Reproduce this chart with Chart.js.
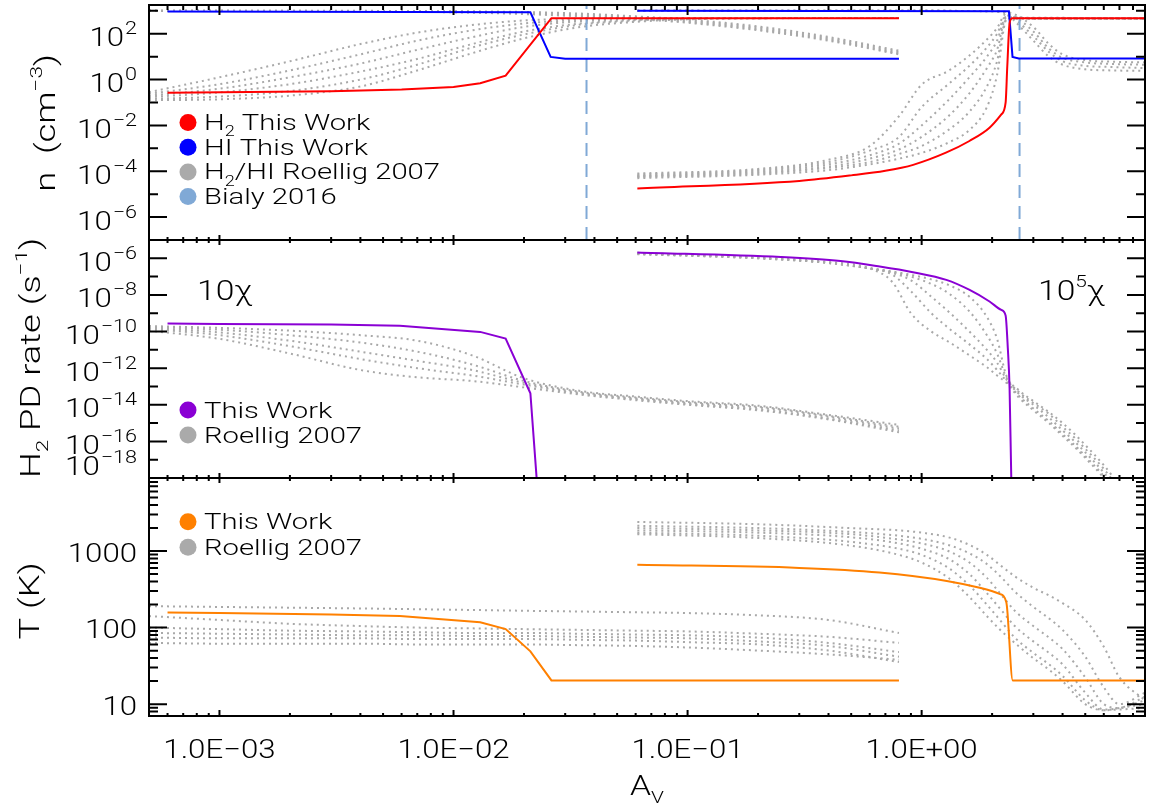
<!DOCTYPE html>
<html>
<head>
<meta charset="utf-8">
<title>H2 / HI profiles</title>
<script src="https://cdn.jsdelivr.net/npm/chart.js@4.4.1/dist/chart.umd.min.js"></script>
<style>
  body { margin: 0; background: #fff; }
  #wrap { position: relative; width: 1149px; height: 807px; }
  #wrap canvas { position: absolute; left: 0; top: 0; }
</style>
</head>
<body>
<div id="wrap">
  <canvas id="nChart" width="1149" height="807"></canvas>
  <canvas id="pdChart" width="1149" height="807"></canvas>
  <canvas id="tChart" width="1149" height="807"></canvas>
</div>
<script>
// ---------------- data (A_V on x; y values kept as log10) ----------------
var avRange = [5e-4, 9];
var nRange = [1e-7, 1800];
var pdRange = [1e-18, 1e-5];
var tRange = [7, 9000];

var xTicks = [1e-3, 1e-2, 1e-1, 1];
var xTickLabels = ['1.0E\u221203', '1.0E\u221202', '1.0E\u221201', '1.0E+00'];
var nTickExps = [-6, -4, -2, 0, 2];
var nMinorExps = [-7, -5, -3, -1, 1, 3];
var pdTickExps = [-18, -16, -14, -12, -10, -8, -6];
var pdMinorExps = [-17, -15, -13, -11, -9, -7, -5];
var tTicks = [10, 100, 1000];
var tTickLabels = ['10', '100', '1000'];

// Roellig 2007 benchmark, 10 chi models (shared A_V grid)
var avRoeLo = [5e-4, 1e-3, 2e-3, 4e-3, 7e-3, 0.012, 0.02, 0.035, 0.06, 0.1, 0.2, 0.4, 0.8];
var nH2RoeLo = [
  [-0.55, 0.10, 0.80, 1.55, 2.05, 2.38, 2.58, 2.66, 2.68, 2.69, 2.69, 2.69, 2.69],
  [-0.62, -0.20, 0.40, 1.10, 1.70, 2.15, 2.45, 2.60, 2.66, 2.68, 2.69, 2.69, 2.69],
  [-0.70, -0.40, 0.10, 0.70, 1.30, 1.85, 2.30, 2.55, 2.64, 2.67, 2.69, 2.69, 2.69],
  [-0.76, -0.56, -0.20, 0.35, 0.90, 1.55, 2.10, 2.45, 2.60, 2.66, 2.68, 2.69, 2.69],
  [-0.84, -0.74, -0.50, 0.00, 0.65, 1.40, 1.97, 2.40, 2.57, 2.65, 2.68, 2.69, 2.69],
  [-0.90, -0.86, -0.70, -0.30, 0.40, 1.15, 1.80, 2.30, 2.52, 2.63, 2.67, 2.69, 2.69]
];
var nHIRoeLo = [
  [3.00, 3.00, 3.00, 3.00, 2.99, 2.98, 2.95, 2.88, 2.76, 2.62, 2.32, 1.86, 1.26],
  [3.00, 3.00, 3.00, 2.99, 2.98, 2.96, 2.92, 2.84, 2.72, 2.57, 2.26, 1.80, 1.20],
  [3.00, 3.00, 2.99, 2.99, 2.97, 2.94, 2.89, 2.80, 2.68, 2.52, 2.20, 1.74, 1.14],
  [3.00, 2.99, 2.99, 2.98, 2.96, 2.92, 2.86, 2.76, 2.64, 2.48, 2.15, 1.70, 1.10]
];
var pdRoeLo = [
  [-9.70, -9.80, -9.95, -10.20, -10.50, -11.30, -12.55, -13.25, -13.55, -13.80, -14.05, -14.55, -15.10],
  [-9.75, -9.90, -10.20, -10.60, -11.10, -11.80, -12.70, -13.30, -13.60, -13.85, -14.10, -14.60, -15.20],
  [-9.80, -10.05, -10.50, -11.10, -11.60, -12.10, -12.80, -13.35, -13.65, -13.90, -14.15, -14.65, -15.30],
  [-9.85, -10.20, -10.80, -11.50, -12.00, -12.40, -12.90, -13.40, -13.70, -13.95, -14.25, -14.75, -15.40],
  [-9.95, -10.40, -11.20, -12.10, -12.50, -12.70, -13.05, -13.45, -13.75, -14.00, -14.30, -14.80, -15.50]
];
var tRoeLo = [
  [2.28, 2.27, 2.26, 2.25, 2.24, 2.23, 2.22, 2.21, 2.20, 2.19, 2.16, 2.10, 1.93],
  [2.15, 2.10, 2.05, 2.02, 2.00, 1.99, 1.98, 1.97, 1.96, 1.95, 1.92, 1.88, 1.80],
  [2.00, 1.98, 1.96, 1.95, 1.94, 1.93, 1.93, 1.92, 1.91, 1.90, 1.87, 1.80, 1.68],
  [1.93, 1.92, 1.91, 1.90, 1.90, 1.89, 1.89, 1.88, 1.87, 1.86, 1.82, 1.76, 1.62],
  [1.87, 1.86, 1.86, 1.86, 1.85, 1.85, 1.85, 1.84, 1.83, 1.81, 1.78, 1.70, 1.55],
  [1.80, 1.79, 1.79, 1.79, 1.78, 1.78, 1.78, 1.77, 1.76, 1.74, 1.70, 1.65, 1.58]
];

// Roellig 2007 benchmark, 10^5 chi models
var avRoeHiH2 = [0.061, 0.2, 0.4, 0.6, 0.8, 1.0, 1.3, 1.6, 1.9, 2.1, 2.3, 2.5, 3.0, 9];
var nH2RoeHi = [
  [-4.10, -3.90, -3.50, -2.90, -1.60, -0.22, 0.38, 1.05, 1.75, 2.25, 2.88, 2.75, 2.70, 2.69],
  [-4.15, -3.95, -3.60, -3.10, -2.50, -1.20, -0.20, 0.60, 1.40, 2.00, 2.80, 2.72, 2.68, 2.68],
  [-4.20, -4.00, -3.70, -3.30, -2.80, -2.00, -0.90, 0.10, 1.00, 1.70, 2.75, 2.70, 2.68, 2.68],
  [-4.22, -4.05, -3.80, -3.45, -3.05, -2.50, -1.60, -0.60, 0.50, 1.30, 2.70, 2.70, 2.66, 2.66],
  [-4.25, -4.10, -3.85, -3.60, -3.25, -2.90, -2.20, -1.40, -0.30, 0.80, 2.65, 2.68, 2.66, 2.66],
  [-4.30, -4.15, -3.95, -3.70, -3.45, -3.20, -2.75, -2.20, -1.20, 0.20, 2.60, 2.66, 2.65, 2.65]
];
var avRoeHiHI = [0.061, 1.0, 2.0, 2.3, 2.5, 3.0, 3.5, 4.0, 5.0, 6.5, 9];
var nHIRoeHi = [
  [3.00, 3.00, 2.99, 2.95, 2.85, 2.30, 1.55, 1.10, 0.85, 0.78, 0.75],
  [3.00, 3.00, 2.99, 2.92, 2.75, 2.10, 1.35, 0.95, 0.75, 0.68, 0.65],
  [3.00, 3.00, 2.98, 2.90, 2.65, 1.90, 1.20, 0.80, 0.60, 0.55, 0.50],
  [3.00, 3.00, 2.98, 2.88, 2.55, 1.70, 1.00, 0.65, 0.45, 0.40, 0.38]
];
var avRoeHiPD = [0.061, 0.2, 0.4, 0.6, 0.75, 0.9, 1.1, 1.3, 1.6, 1.9, 2.1, 2.3, 2.6, 3.0, 3.5, 4.0, 4.5, 5.0, 6.0, 7.0];
var pdRoeHi = [
  [-5.70, -5.95, -6.20, -6.55, -7.30, -9.00, -10.00, -10.55, -11.30, -11.95, -12.40, -12.80, -13.60, -14.30, -15.00, -15.70, -16.30, -16.90, -18.00, -19.20],
  [-5.72, -5.97, -6.25, -6.55, -6.90, -7.80, -9.00, -9.80, -10.70, -11.50, -12.10, -12.70, -13.50, -14.20, -14.90, -15.60, -16.20, -16.80, -17.90, -19.00],
  [-5.74, -5.98, -6.25, -6.55, -6.80, -7.20, -8.10, -8.90, -10.00, -11.00, -11.70, -12.60, -13.40, -14.00, -14.70, -15.40, -16.00, -16.60, -17.70, -18.80],
  [-5.76, -6.00, -6.25, -6.55, -6.75, -7.00, -7.40, -7.90, -8.90, -10.20, -11.20, -12.50, -13.30, -13.90, -14.50, -15.20, -15.80, -16.40, -17.50, -18.60],
  [-5.78, -6.00, -6.25, -6.55, -6.72, -6.90, -7.15, -7.45, -8.10, -9.20, -10.40, -12.40, -13.20, -13.80, -14.40, -15.00, -15.60, -16.20, -17.30, -18.40]
];
var avRoeHiT = [0.061, 0.2, 0.5, 0.8, 1.0, 1.3, 1.6, 1.9, 2.2, 2.5, 3.0, 3.5, 4.0, 5.0, 6.0, 7.0, 9.0];
var tRoeHi = [
  [3.38, 3.35, 3.30, 3.27, 3.24, 3.18, 3.08, 2.95, 2.80, 2.67, 2.52, 2.42, 2.32, 2.10, 1.75, 1.35, 1.05],
  [3.33, 3.30, 3.25, 3.20, 3.16, 3.08, 2.97, 2.83, 2.65, 2.47, 2.27, 2.12, 1.97, 1.62, 1.22, 1.00, 1.15],
  [3.30, 3.27, 3.22, 3.15, 3.10, 3.00, 2.85, 2.65, 2.42, 2.22, 2.02, 1.87, 1.72, 1.35, 1.00, 0.95, 1.10],
  [3.27, 3.24, 3.18, 3.10, 3.03, 2.90, 2.70, 2.45, 2.22, 2.02, 1.82, 1.67, 1.52, 1.15, 0.93, 0.95, 1.05],
  [3.24, 3.20, 3.12, 3.03, 2.95, 2.78, 2.55, 2.30, 2.07, 1.87, 1.67, 1.52, 1.37, 1.05, 0.92, 0.95, 1.00],
  [3.22, 3.17, 3.07, 2.95, 2.85, 2.65, 2.40, 2.15, 1.95, 1.80, 1.60, 1.45, 1.30, 1.00, 0.92, 0.93, 0.95]
];

// This Work, 10 chi model
var avTwLoH2 = [6e-4, 3e-3, 6e-3, 0.01, 0.013, 0.0167, 0.0262, 0.8];
var nH2TwLo = [-0.57, -0.51, -0.43, -0.32, -0.16, 0.17, 2.68, 2.68];
var avTwLoHI = [6e-4, 0.0213, 0.026, 0.030, 0.8];
var nHITwLo = [2.97, 2.94, 0.99, 0.91, 0.91];
var avTwLoPD = [6e-4, 1e-3, 3e-3, 0.0059, 0.013, 0.0167, 0.0213, 0.0262];
var pdTwLo = [-9.56, -9.59, -9.62, -9.69, -10.02, -10.38, -13.37, -29.0];
var avTwLoT = [6e-4, 1e-3, 3e-3, 0.0059, 0.013, 0.0167, 0.0213, 0.0262, 0.8];
var tTwLo = [2.196, 2.19, 2.17, 2.15, 2.07, 1.98, 1.69, 1.31, 1.31];

// This Work, 10^5 chi model
var avTwHiH2 = [0.061, 0.3, 0.5, 0.7, 0.92, 1.27, 1.6, 1.95, 2.19, 2.284, 2.322, 2.375, 2.439, 9];
var nH2TwHi = [-4.75, -4.42, -4.18, -3.98, -3.72, -3.19, -2.68, -2.10, -1.52, -1.01, 0.58, 2.46, 2.68, 2.68];
var avTwHiHI = [0.061, 2.36, 2.445, 2.6, 9];
var nHITwHi = [3.00, 2.98, 0.99, 0.92, 0.92];
var avTwHiPD = [0.061, 0.25, 0.45, 0.662, 0.918, 1.275, 1.603, 1.95, 2.19, 2.284, 2.334, 2.375, 2.415, 2.45];
var pdTwHi = [-5.68, -5.93, -6.15, -6.45, -6.76, -7.18, -7.73, -8.36, -8.82, -9.12, -10.9, -13.1, -18.0, -21.0];
var avTwHiT = [0.061, 0.3, 0.66, 1.28, 1.77, 2.15, 2.30, 2.45, 9];
var tTwHi = [2.82, 2.78, 2.72, 2.61, 2.52, 2.44, 2.33, 1.31, 1.31];

// Bialy 2016 transition points
var avBialy = [0.037, 2.62];

// ---------------- styling ----------------
var RED = '#ff0000', BLUE = '#0000ff', GRAY = '#a9a9a9', BIALY = '#80a9d6';
var PURPLE = '#8a00d4', ORANGE = '#ff8000';
var SX = 1.2;
var FONT = '300 {s}px Roboto, "Liberation Sans", sans-serif';
var PAD_L = 149, PAD_R = 4;

function pts(xs, logs) {
  return xs.map(function (x, i) { return { x: x, y: Math.pow(10, logs[i]) }; });
}
function solid(xs, logs, color, smooth) {
  return { data: pts(xs, logs), borderColor: color, borderWidth: 2, pointRadius: 0, showLine: true, fill: false,
           cubicInterpolationMode: smooth ? 'monotone' : 'default' };
}
function dotted(xs, logs) {
  return { data: pts(xs, logs), borderColor: GRAY, borderWidth: 2, borderDash: [2, 4], pointRadius: 0,
           showLine: true, fill: false, cubicInterpolationMode: 'monotone' };
}
function vline(x, range) {
  return { data: [{ x: x, y: range[0] }, { x: x, y: range[1] }], borderColor: BIALY, borderWidth: 2,
           borderDash: [13, 8], pointRadius: 0, showLine: true, fill: false };
}

// text drawn with a horizontal stretch to get close to the wide IDL glyphs
// a segment is [text, 'sub' | 'sup' | '']
function rich(ctx, segs, x, y, size, align, sx) {
  sx = sx || SX;
  var parts = segs.map(function (s) {
    var fs = s[1] ? size * 0.62 : size;
    var f = FONT.replace('{s}', fs.toFixed(1));
    ctx.font = f;
    return { t: s[0], k: s[1], f: f, w: ctx.measureText(s[0]).width * sx };
  });
  var w = parts.reduce(function (acc, p) { return acc + p.w; }, 0);
  var cx = align === 'center' ? x - w / 2 : (align === 'right' ? x - w : x);
  parts.forEach(function (p) {
    var dy = p.k === 'sub' ? size * 0.28 : (p.k === 'sup' ? -size * 0.45 : 0);
    ctx.save();
    ctx.font = p.f;
    ctx.textAlign = 'left';
    ctx.textBaseline = 'alphabetic';
    ctx.translate(cx, y + dy);
    ctx.scale(sx, 1);
    ctx.fillText(p.t, 0, 0);
    ctx.restore();
    cx += p.w;
  });
  return w;
}

function powLabel(ctx, e, py, area) {
  var es = e < 0 ? '\u2212' + (-e) : String(e);
  var base = Math.min(py + 12.5, area.bottom - 3);
  var we = rich(ctx, [[es, '']], 137, base - 12, 18, 'right');
  rich(ctx, [['10', '']], 137 - we - 1, base, 26, 'right');
}

var xMinorTicks = [];
[1e-4, 1e-3, 1e-2, 1e-1, 1].forEach(function (d) {
  for (var m = 2; m <= 9; m++) {
    var v = m * d;
    if (v > avRange[0] && v < avRange[1]) xMinorTicks.push(v);
  }
});

// frame, inward ticks, labels, legend and notes for one panel
function panelPlugin(cfg) {
  return {
    id: 'panel',
    afterDatasetsDraw: function (chart) {
      var ctx = chart.ctx, a = chart.chartArea;
      var xs = chart.scales.x, ys = chart.scales.y;
      ctx.save();
      ctx.strokeStyle = '#000';
      ctx.fillStyle = '#000';
      ctx.lineWidth = 2;
      ctx.beginPath();
      function xt(v, top, bot) {
        var p = xs.getPixelForValue(v);
        ctx.moveTo(p, a.top); ctx.lineTo(p, a.top + top);
        ctx.moveTo(p, a.bottom); ctx.lineTo(p, a.bottom - bot);
      }
      function yt(v, len) {
        var p = ys.getPixelForValue(v);
        ctx.moveTo(a.left, p); ctx.lineTo(a.left + len, p);
        ctx.moveTo(a.right, p); ctx.lineTo(a.right - len, p);
      }
      xMinorTicks.forEach(function (v) { xt(v, cfg.xTop[1], cfg.xBot[1]); });
      xTicks.forEach(function (v) { xt(v, cfg.xTop[0], cfg.xBot[0]); });
      cfg.yMinor.forEach(function (v) { yt(v, 9); });
      cfg.yMajor.forEach(function (v) { yt(v, 18); });
      ctx.stroke();
      ctx.strokeRect(a.left, a.top, a.right - a.left, a.bottom - a.top);

      cfg.yMajor.forEach(function (v, i) {
        var py = ys.getPixelForValue(v);
        if (cfg.yExps) powLabel(ctx, cfg.yExps[i], py, a);
        else rich(ctx, [[cfg.yLabels[i], '']], 137, py + 10.5, 26, 'right');
      });

      if (cfg.xLabels) {
        xTicks.forEach(function (v, i) {
          rich(ctx, [[xTickLabels[i], '']], xs.getPixelForValue(v), 758, 26, 'center');
        });
        rich(ctx, [['A', ''], ['V', 'sub']], (a.left + a.right) / 2, 795, 28, 'center');
      }

      ctx.save();
      ctx.translate(cfg.title.x, cfg.title.y);
      ctx.rotate(-Math.PI / 2);
      rich(ctx, cfg.title.segs, 0, 0, 28, 'center', 1.3);
      ctx.restore();

      cfg.legend.forEach(function (item, i) {
        var y = cfg.legendY + i * cfg.legendDY;
        ctx.fillStyle = item.color;
        ctx.beginPath();
        ctx.arc(188, y, 8.5, 0, Math.PI * 2);
        ctx.fill();
        ctx.fillStyle = '#000';
        rich(ctx, item.segs, 204, y + 7.5, 22.5, 'left', 1.3);
      });

      (cfg.notes || []).forEach(function (n) { rich(ctx, n.segs, n.x, n.y, 28, 'left'); });
      ctx.restore();
    }
  };
}

function makeChart(id, datasets, yRange, pad, cfg) {
  return new Chart(document.getElementById(id), {
    type: 'scatter',
    data: { datasets: datasets },
    options: {
      responsive: false,
      animation: false,
      devicePixelRatio: 1,
      events: [],
      layout: { padding: { left: PAD_L, right: PAD_R, top: pad[0], bottom: pad[1] } },
      plugins: { legend: { display: false }, tooltip: { enabled: false } },
      scales: {
        x: { type: 'logarithmic', min: avRange[0], max: avRange[1], display: false },
        y: { type: 'logarithmic', min: yRange[0], max: yRange[1], display: false }
      }
    },
    plugins: [panelPlugin(cfg)]
  });
}

// ---------------- top panel: densities ----------------
var nSets = [
  solid(avTwLoH2, nH2TwLo, RED), solid(avTwHiH2, nH2TwHi, RED, true),
  solid(avTwLoHI, nHITwLo, BLUE), solid(avTwHiHI, nHITwHi, BLUE),
  vline(avBialy[0], nRange), vline(avBialy[1], nRange)
];
nH2RoeLo.forEach(function (c) { nSets.push(dotted(avRoeLo, c)); });
nHIRoeLo.forEach(function (c) { nSets.push(dotted(avRoeLo, c)); });
nH2RoeHi.forEach(function (c) { nSets.push(dotted(avRoeHiH2, c)); });
nHIRoeHi.forEach(function (c) { nSets.push(dotted(avRoeHiHI, c)); });

makeChart('nChart', nSets, nRange, [5, 807 - 240], {
  yMajor: nTickExps.map(function (e) { return Math.pow(10, e); }),
  yExps: nTickExps,
  yMinor: nMinorExps.map(function (e) { return Math.pow(10, e); }),
  xTop: [10, 5], xBot: [5, 3],
  title: { x: 55, y: 123, segs: [['n  (cm', ''], ['\u22123', 'sup'], [')', '']] },
  legendY: 122.5, legendDY: 24.7,
  legend: [
    { color: RED, segs: [['H', ''], ['2', 'sub'], [' This Work', '']] },
    { color: BLUE, segs: [['HI This Work', '']] },
    { color: '#aaaaaa', segs: [['H', ''], ['2', 'sub'], ['/HI Roellig 2007', '']] },
    { color: BIALY, segs: [['Bialy 2016', '']] }
  ]
});

// ---------------- middle panel: H2 photodissociation rate ----------------
var pdSets = [solid(avTwLoPD, pdTwLo, PURPLE), solid(avTwHiPD, pdTwHi, PURPLE, true)];
pdRoeLo.forEach(function (c) { pdSets.push(dotted(avRoeLo, c)); });
pdRoeHi.forEach(function (c) { pdSets.push(dotted(avRoeHiPD, c)); });

makeChart('pdChart', pdSets, pdRange, [240, 807 - 478], {
  yMajor: pdTickExps.map(function (e) { return Math.pow(10, e); }),
  yExps: pdTickExps,
  yMinor: pdMinorExps.map(function (e) { return Math.pow(10, e); }),
  xTop: [5, 3], xBot: [5, 3],
  title: { x: 40, y: 358, segs: [['H', ''], ['2', 'sub'], [' PD rate (s', ''], ['\u22121', 'sup'], [')', '']] },
  legendY: 410, legendDY: 25,
  legend: [
    { color: PURPLE, segs: [['This Work', '']] },
    { color: '#aaaaaa', segs: [['Roellig 2007', '']] }
  ],
  notes: [
    { x: 197, y: 300, segs: [['10\u03c7', '']] },
    { x: 1038, y: 300, segs: [['10', ''], ['5', 'sup'], ['\u03c7', '']] }
  ]
});

// ---------------- bottom panel: temperature ----------------
var tSets = [solid(avTwLoT, tTwLo, ORANGE), solid(avTwHiT, tTwHi, ORANGE, true)];
tRoeLo.forEach(function (c) { tSets.push(dotted(avRoeLo, c)); });
tRoeHi.forEach(function (c) { tSets.push(dotted(avRoeHiT, c)); });

var tMinor = [];
[1, 10, 100, 1000].forEach(function (d) {
  for (var m = 2; m <= 9; m++) {
    var v = m * d;
    if (v > tRange[0] - 0.01 && v < tRange[1] + 0.01 && tTicks.indexOf(v) < 0) tMinor.push(v);
  }
});

makeChart('tChart', tSets, tRange, [478, 807 - 716], {
  yMajor: tTicks,
  yLabels: tTickLabels,
  yMinor: tMinor,
  xTop: [5, 3], xBot: [6, 3],
  xLabels: true,
  title: { x: 39, y: 601, segs: [['T (K)', '']] },
  legendY: 521.7, legendDY: 25.6,
  legend: [
    { color: ORANGE, segs: [['This Work', '']] },
    { color: '#aaaaaa', segs: [['Roellig 2007', '']] }
  ]
});
</script>
</body>
</html>
